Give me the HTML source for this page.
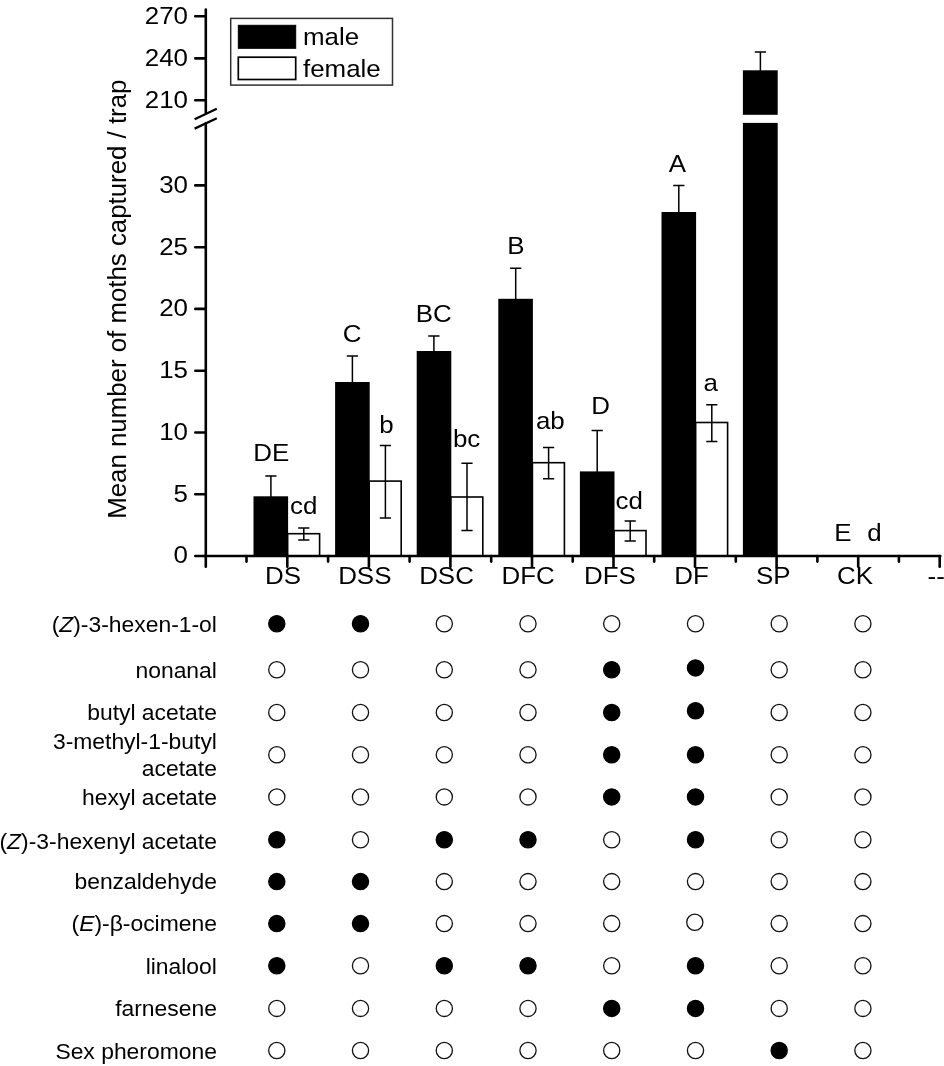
<!DOCTYPE html>
<html lang="en"><head><meta charset="utf-8"><title>Moth trap captures</title>
<style>
html,body{margin:0;padding:0;background:#fff;}
body{width:944px;height:1066px;overflow:hidden;position:relative;font-family:"Liberation Sans",Arial,Helvetica,sans-serif;color:#000;}
svg{position:absolute;left:0;top:0;display:block;}
svg text{font-family:"Liberation Sans",Arial,Helvetica,sans-serif;fill:#000;}
.c text{font-size:24px;}
.t text{font-size:21.5px;text-anchor:end;}
.ax{stroke:#000;stroke-width:2.6;fill:none;stroke-linecap:round;}
.eb{stroke:#000;stroke-width:1.5;fill:none;}
.mb{fill:#000;}
.fb{fill:#fff;stroke:#000;stroke-width:1.6;}
.o{fill:#fff;stroke:#111;stroke-width:1.3;}
.f{fill:#000;stroke:#000;stroke-width:1.3;}
</style></head><body>
<svg width="944" height="1066" viewBox="0 0 944 1066">
<rect x="0" y="0" width="944" height="1066" fill="#fff"/>
<g class="c">
<rect class="fb" x="287.6" y="533.7" width="32.0" height="22.3"/>
<path class="eb" d="M303.8 528.0V540.0M298.2 528.0h11.2M298.2 540.0h11.2"/>
<path class="eb" d="M270.9 476.0V497.3M265.3 476.0h11.2"/>
<rect class="mb" x="253.5" y="496.3" width="34.6" height="59.7"/>
<rect class="fb" x="369.2" y="481.1" width="32.0" height="74.9"/>
<path class="eb" d="M385.4 445.5V517.9M379.8 445.5h11.2M379.8 517.9h11.2"/>
<path class="eb" d="M352.4 356.1V383.0M346.8 356.1h11.2"/>
<rect class="mb" x="335.1" y="382.0" width="34.6" height="174.0"/>
<rect class="fb" x="450.8" y="497.0" width="32.0" height="59.0"/>
<path class="eb" d="M467.0 463.2V530.4M461.4 463.2h11.2M461.4 530.4h11.2"/>
<path class="eb" d="M433.9 336.1V352.0M428.3 336.1h11.2"/>
<rect class="mb" x="416.7" y="351.0" width="34.6" height="205.0"/>
<rect class="fb" x="532.4" y="462.7" width="32.0" height="93.3"/>
<path class="eb" d="M548.6 447.5V478.7M543.0 447.5h11.2M543.0 478.7h11.2"/>
<path class="eb" d="M515.7 268.3V299.8M510.1 268.3h11.2"/>
<rect class="mb" x="498.3" y="298.8" width="34.6" height="257.2"/>
<rect class="fb" x="614.0" y="530.6" width="32.0" height="25.4"/>
<path class="eb" d="M630.2 521.0V541.0M624.6 521.0h11.2M624.6 541.0h11.2"/>
<path class="eb" d="M597.2 430.4V472.4M591.6 430.4h11.2"/>
<rect class="mb" x="579.9" y="471.4" width="34.6" height="84.6"/>
<rect class="fb" x="695.6" y="422.5" width="32.0" height="133.5"/>
<path class="eb" d="M711.8 404.7V441.4M706.2 404.7h11.2M706.2 441.4h11.2"/>
<path class="eb" d="M678.8 185.5V213.0M673.2 185.5h11.2"/>
<rect class="mb" x="661.5" y="212.0" width="34.6" height="344.0"/>
<path class="eb" d="M760.4 52.1V71.3M754.8 52.1h11.2"/>
<rect class="mb" x="742.9" y="70.3" width="34.8" height="44.5"/>
<rect class="mb" x="742.9" y="122.9" width="34.8" height="433.1"/>
<path class="ax" d="M205.8 9.6V112.6M205.8 123.4V566.7"/>
<path class="ax" d="M204.5 556.0H940.3"/>
<path d="M194.6 119.2L216.8 108.7M194.6 128.6L216.8 118.3" stroke="#000" stroke-width="2.3" fill="none"/>
<path class="ax" d="M195.3 16.3H205.2"/>
<text transform="translate(188.0 23.6) scale(1.08 1)" text-anchor="end">270</text>
<path class="ax" d="M195.3 58.4H205.2"/>
<text transform="translate(188.0 65.7) scale(1.08 1)" text-anchor="end">240</text>
<path class="ax" d="M195.3 100.3H205.2"/>
<text transform="translate(188.0 107.6) scale(1.08 1)" text-anchor="end">210</text>
<path class="ax" d="M195.3 556.0H205.2"/>
<text transform="translate(188.0 563.3) scale(1.08 1)" text-anchor="end">0</text>
<path class="ax" d="M195.3 494.2H205.2"/>
<text transform="translate(188.0 501.5) scale(1.08 1)" text-anchor="end">5</text>
<path class="ax" d="M195.3 432.5H205.2"/>
<text transform="translate(188.0 439.8) scale(1.08 1)" text-anchor="end">10</text>
<path class="ax" d="M195.3 370.7H205.2"/>
<text transform="translate(188.0 378.0) scale(1.08 1)" text-anchor="end">15</text>
<path class="ax" d="M195.3 308.9H205.2"/>
<text transform="translate(188.0 316.2) scale(1.08 1)" text-anchor="end">20</text>
<path class="ax" d="M195.3 247.2H205.2"/>
<text transform="translate(188.0 254.5) scale(1.08 1)" text-anchor="end">25</text>
<path class="ax" d="M195.3 185.4H205.2"/>
<text transform="translate(188.0 192.7) scale(1.08 1)" text-anchor="end">30</text>
<path class="ax" d="M287.3 556.0V566.7"/>
<path class="ax" d="M246.5 556.0V561.6"/>
<path class="ax" d="M368.9 556.0V566.7"/>
<path class="ax" d="M328.1 556.0V561.6"/>
<path class="ax" d="M450.4 556.0V566.7"/>
<path class="ax" d="M409.6 556.0V561.6"/>
<path class="ax" d="M532.0 556.0V566.7"/>
<path class="ax" d="M491.2 556.0V561.6"/>
<path class="ax" d="M613.5 556.0V566.7"/>
<path class="ax" d="M572.7 556.0V561.6"/>
<path class="ax" d="M695.0 556.0V566.7"/>
<path class="ax" d="M654.2 556.0V561.6"/>
<path class="ax" d="M776.6 556.0V566.7"/>
<path class="ax" d="M735.8 556.0V561.6"/>
<path class="ax" d="M858.2 556.0V566.7"/>
<path class="ax" d="M817.4 556.0V561.6"/>
<path class="ax" d="M939.7 556.0V566.7"/>
<path class="ax" d="M898.9 556.0V561.6"/>
<text transform="translate(283.1 583.8) scale(1.08 1)" text-anchor="middle">DS</text>
<text transform="translate(364.8 583.8) scale(1.08 1)" text-anchor="middle">DSS</text>
<text transform="translate(446.5 583.8) scale(1.08 1)" text-anchor="middle">DSC</text>
<text transform="translate(528.2 583.8) scale(1.08 1)" text-anchor="middle">DFC</text>
<text transform="translate(609.9 583.8) scale(1.08 1)" text-anchor="middle">DFS</text>
<text transform="translate(691.6 583.8) scale(1.08 1)" text-anchor="middle">DF</text>
<text transform="translate(773.3 583.8) scale(1.08 1)" text-anchor="middle">SP</text>
<text transform="translate(855.0 583.8) scale(1.08 1)" text-anchor="middle">CK</text>
<text transform="translate(927.6 584.0) scale(1.08 1)" text-anchor="start">--</text>
<text transform="translate(126.2 299.2) rotate(-90) scale(1.0765 1.04)" text-anchor="middle">Mean number of moths captured / trap</text>
<rect x="230.7" y="18.4" width="161.8" height="66.7" fill="#fff" stroke="#303030" stroke-width="1.5"/>
<rect x="238.3" y="25.3" width="57.4" height="23" fill="#000" stroke="#000" stroke-width="1"/>
<rect x="238.3" y="57.2" width="57.4" height="22.3" fill="#fff" stroke="#000" stroke-width="1.7"/>
<text transform="translate(303.0 45.0) scale(1.08 1)" text-anchor="start">male</text>
<text transform="translate(303.0 77.0) scale(1.08 1)" text-anchor="start">female</text>
<text transform="translate(271.2 460.6) scale(1.08 1)" text-anchor="middle">DE</text>
<text transform="translate(303.8 514.0) scale(1.08 1)" text-anchor="middle">cd</text>
<text transform="translate(352.0 341.5) scale(1.08 1)" text-anchor="middle">C</text>
<text transform="translate(386.5 432.6) scale(1.08 1)" text-anchor="middle">b</text>
<text transform="translate(433.7 322.3) scale(1.08 1)" text-anchor="middle">BC</text>
<text transform="translate(466.6 446.5) scale(1.08 1)" text-anchor="middle">bc</text>
<text transform="translate(516.0 253.6) scale(1.08 1)" text-anchor="middle">B</text>
<text transform="translate(550.3 429.4) scale(1.08 1)" text-anchor="middle">ab</text>
<text transform="translate(600.5 414.0) scale(1.08 1)" text-anchor="middle">D</text>
<text transform="translate(629.2 508.5) scale(1.08 1)" text-anchor="middle">cd</text>
<text transform="translate(677.4 172.3) scale(1.08 1)" text-anchor="middle">A</text>
<text transform="translate(710.6 390.9) scale(1.08 1)" text-anchor="middle">a</text>
<text transform="translate(843.0 541.0) scale(1.08 1)" text-anchor="middle">E</text>
<text transform="translate(874.5 541.0) scale(1.08 1)" text-anchor="middle">d</text>
</g>
<g class="t">
<text transform="translate(216.9 631.5) scale(1.065 1)" x="0" y="0"><tspan>(</tspan><tspan font-style="italic">Z</tspan><tspan>)-3-hexen-1-ol</tspan></text>
<circle class="f" cx="276.8" cy="623.7" r="8.1"/>
<circle class="f" cx="360.5" cy="623.7" r="8.1"/>
<circle class="o" cx="444.3" cy="623.7" r="8.1"/>
<circle class="o" cx="528.0" cy="623.7" r="8.1"/>
<circle class="o" cx="611.7" cy="623.7" r="8.1"/>
<circle class="o" cx="695.5" cy="623.7" r="8.1"/>
<circle class="o" cx="779.2" cy="623.7" r="8.1"/>
<circle class="o" cx="862.9" cy="623.7" r="8.1"/>
<text transform="translate(216.9 677.6) scale(1.065 1)" x="0" y="0">nonanal</text>
<circle class="o" cx="276.8" cy="669.7" r="8.1"/>
<circle class="o" cx="360.5" cy="669.7" r="8.1"/>
<circle class="o" cx="444.3" cy="669.7" r="8.1"/>
<circle class="o" cx="528.0" cy="669.7" r="8.1"/>
<circle class="f" cx="611.7" cy="669.7" r="8.1"/>
<circle class="f" cx="695.5" cy="667.9" r="8.1"/>
<circle class="o" cx="779.2" cy="669.7" r="8.1"/>
<circle class="o" cx="862.9" cy="669.7" r="8.1"/>
<text transform="translate(216.9 719.8) scale(1.065 1)" x="0" y="0">butyl acetate</text>
<circle class="o" cx="276.8" cy="712.5" r="8.1"/>
<circle class="o" cx="360.5" cy="712.5" r="8.1"/>
<circle class="o" cx="444.3" cy="712.5" r="8.1"/>
<circle class="o" cx="528.0" cy="712.5" r="8.1"/>
<circle class="f" cx="611.7" cy="712.5" r="8.1"/>
<circle class="f" cx="695.5" cy="710.7" r="8.1"/>
<circle class="o" cx="779.2" cy="712.5" r="8.1"/>
<circle class="o" cx="862.9" cy="712.5" r="8.1"/>
<text transform="translate(216.9 748.9) scale(1.065 1)" x="0" y="0">3-methyl-1-butyl</text>
<text transform="translate(216.9 776.0) scale(1.065 1)" x="0" y="0">acetate</text>
<circle class="o" cx="276.8" cy="754.8" r="8.1"/>
<circle class="o" cx="360.5" cy="754.8" r="8.1"/>
<circle class="o" cx="444.3" cy="754.8" r="8.1"/>
<circle class="o" cx="528.0" cy="754.8" r="8.1"/>
<circle class="f" cx="611.7" cy="754.8" r="8.1"/>
<circle class="f" cx="695.5" cy="754.8" r="8.1"/>
<circle class="o" cx="779.2" cy="754.8" r="8.1"/>
<circle class="o" cx="862.9" cy="754.8" r="8.1"/>
<text transform="translate(216.9 804.6) scale(1.065 1)" x="0" y="0">hexyl acetate</text>
<circle class="o" cx="276.8" cy="796.9" r="8.1"/>
<circle class="o" cx="360.5" cy="796.9" r="8.1"/>
<circle class="o" cx="444.3" cy="796.9" r="8.1"/>
<circle class="o" cx="528.0" cy="796.9" r="8.1"/>
<circle class="f" cx="611.7" cy="796.9" r="8.1"/>
<circle class="f" cx="695.5" cy="796.9" r="8.1"/>
<circle class="o" cx="779.2" cy="796.9" r="8.1"/>
<circle class="o" cx="862.9" cy="796.9" r="8.1"/>
<text transform="translate(216.9 848.6) scale(1.065 1)" x="0" y="0"><tspan>(</tspan><tspan font-style="italic">Z</tspan><tspan>)-3-hexenyl acetate</tspan></text>
<circle class="f" cx="276.8" cy="839.7" r="8.1"/>
<circle class="o" cx="360.5" cy="839.7" r="8.1"/>
<circle class="f" cx="444.3" cy="839.7" r="8.1"/>
<circle class="f" cx="528.0" cy="839.7" r="8.1"/>
<circle class="o" cx="611.7" cy="839.7" r="8.1"/>
<circle class="f" cx="695.5" cy="839.7" r="8.1"/>
<circle class="o" cx="779.2" cy="839.7" r="8.1"/>
<circle class="o" cx="862.9" cy="839.7" r="8.1"/>
<text transform="translate(216.9 889.4) scale(1.065 1)" x="0" y="0">benzaldehyde</text>
<circle class="f" cx="276.8" cy="881.6" r="8.1"/>
<circle class="f" cx="360.5" cy="881.6" r="8.1"/>
<circle class="o" cx="444.3" cy="881.6" r="8.1"/>
<circle class="o" cx="528.0" cy="881.6" r="8.1"/>
<circle class="o" cx="611.7" cy="881.6" r="8.1"/>
<circle class="o" cx="695.5" cy="881.6" r="8.1"/>
<circle class="o" cx="779.2" cy="881.6" r="8.1"/>
<circle class="o" cx="862.9" cy="881.6" r="8.1"/>
<text transform="translate(216.9 930.9) scale(1.065 1)" x="0" y="0"><tspan>(</tspan><tspan font-style="italic">E</tspan><tspan>)-β-ocimene</tspan></text>
<circle class="f" cx="276.8" cy="923.6" r="8.1"/>
<circle class="f" cx="360.5" cy="923.6" r="8.1"/>
<circle class="o" cx="444.3" cy="923.6" r="8.1"/>
<circle class="o" cx="528.0" cy="923.6" r="8.1"/>
<circle class="o" cx="611.7" cy="923.6" r="8.1"/>
<circle class="o" cx="694.8" cy="922.2" r="8.1"/>
<circle class="o" cx="779.2" cy="923.6" r="8.1"/>
<circle class="o" cx="862.9" cy="923.6" r="8.1"/>
<text transform="translate(216.9 973.8) scale(1.065 1)" x="0" y="0">linalool</text>
<circle class="f" cx="276.8" cy="965.7" r="8.1"/>
<circle class="o" cx="360.5" cy="965.7" r="8.1"/>
<circle class="f" cx="444.3" cy="965.7" r="8.1"/>
<circle class="f" cx="528.0" cy="965.7" r="8.1"/>
<circle class="o" cx="611.7" cy="965.7" r="8.1"/>
<circle class="f" cx="695.5" cy="965.7" r="8.1"/>
<circle class="o" cx="779.2" cy="965.7" r="8.1"/>
<circle class="o" cx="862.9" cy="965.7" r="8.1"/>
<text transform="translate(216.9 1015.5) scale(1.065 1)" x="0" y="0">farnesene</text>
<circle class="o" cx="276.8" cy="1008.4" r="8.1"/>
<circle class="o" cx="360.5" cy="1008.4" r="8.1"/>
<circle class="o" cx="444.3" cy="1008.4" r="8.1"/>
<circle class="o" cx="528.0" cy="1008.4" r="8.1"/>
<circle class="f" cx="611.7" cy="1008.4" r="8.1"/>
<circle class="f" cx="695.5" cy="1008.4" r="8.1"/>
<circle class="o" cx="779.2" cy="1008.4" r="8.1"/>
<circle class="o" cx="862.9" cy="1008.4" r="8.1"/>
<text transform="translate(216.9 1059.1) scale(1.065 1)" x="0" y="0">Sex pheromone</text>
<circle class="o" cx="276.8" cy="1050.5" r="8.1"/>
<circle class="o" cx="360.5" cy="1050.5" r="8.1"/>
<circle class="o" cx="444.3" cy="1050.5" r="8.1"/>
<circle class="o" cx="528.0" cy="1050.5" r="8.1"/>
<circle class="o" cx="611.7" cy="1050.5" r="8.1"/>
<circle class="o" cx="695.5" cy="1050.5" r="8.1"/>
<circle class="f" cx="779.2" cy="1050.5" r="8.1"/>
<circle class="o" cx="862.9" cy="1050.5" r="8.1"/>
</g>
</svg>
</body></html>
